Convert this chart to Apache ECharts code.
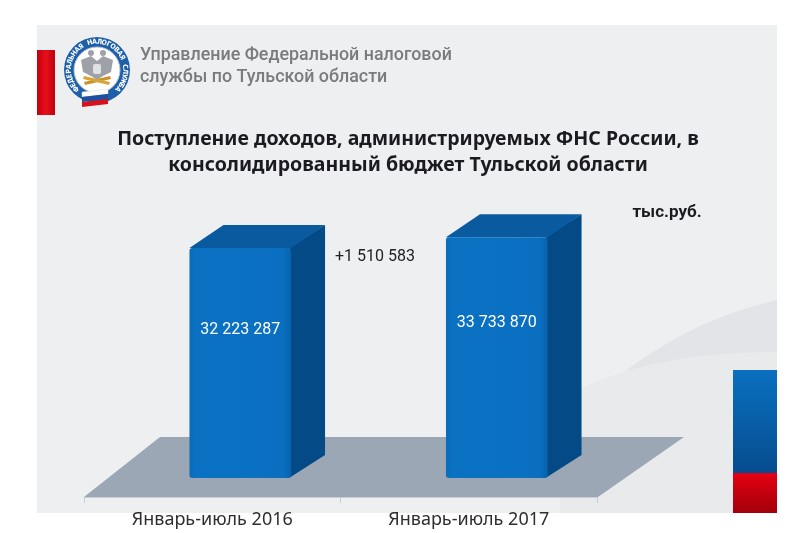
<!DOCTYPE html>
<html>
<head>
    <meta charset="utf-8">
    <title>Поступление доходов</title>
    <script src="https://cdn.jsdelivr.net/npm/echarts@6/dist/echarts.min.js"></script>
    <style>
        html, body { margin: 0; padding: 0; background: #fff; }
        #main { width: 800px; height: 533px; }
    </style>
</head>
<body>
<div id="main"></div>
<script type="text/javascript">
    // данные
    var categories = ['Январь-июль 2016', 'Январь-июль 2017'];
    var values = [32223287, 33733870];
    var unitLabel = 'тыс.руб.';
    var headerLines = ['Управление Федеральной налоговой', 'службы по Тульской области'];
    var titleText = 'Поступление доходов, администрируемых ФНС России, в\nконсолидированный бюджет Тульской области';

    // формат "32 223 287"
    var fmt = function (n) {
        return String(n).replace(/\B(?=(\d{3})+(?!\d))/g, ' ');
    };
    var diff = values[1] - values[0];

    // кубическая кривая -> точки (для волн на фоне)
    var bez = function (p0, p1, p2, p3) {
        var pts = [];
        for (var k = 0; k <= 24; k++) {
            var t = k / 24, u = 1 - t;
            pts.push([
                u * u * u * p0[0] + 3 * u * u * t * p1[0] + 3 * u * t * t * p2[0] + t * t * t * p3[0],
                u * u * u * p0[1] + 3 * u * u * t * p1[1] + 3 * u * t * t * p2[1] + t * t * t * p3[1]
            ]);
        }
        return pts;
    };

    var chart = echarts.init(document.getElementById('main'));

    // логотип
    var logoCx = 97, logoCy = 70;
    var ringText = 'ФЕДЕРАЛЬНАЯ НАЛОГОВАЯ СЛУЖБА';
    var logo = [
        { type: 'circle', shape: { cx: logoCx, cy: logoCy, r: 33 }, style: { fill: '#1d5fa8' }, z: 1 },
        { type: 'circle', shape: { cx: logoCx, cy: logoCy, r: 23 }, style: { fill: '#ffffff', stroke: '#b9c6d6', lineWidth: 1 }, z: 2 },
        // орёл (упрощённо)
        { type: 'polygon', shape: { points: [[logoCx - 16, logoCy - 10], [logoCx - 6, logoCy - 14], [logoCx, logoCy - 9], [logoCx + 6, logoCy - 14],
            [logoCx + 16, logoCy - 10], [logoCx + 14, logoCy + 2], [logoCx + 6, logoCy + 6], [logoCx, logoCy + 10],
            [logoCx - 6, logoCy + 6], [logoCx - 14, logoCy + 2]] }, style: { fill: '#9ea2a8' }, z: 3 },
        { type: 'circle', shape: { cx: logoCx - 6, cy: logoCy - 17, r: 3 }, style: { fill: '#9ea2a8' }, z: 3 },
        { type: 'circle', shape: { cx: logoCx + 6, cy: logoCy - 17, r: 3 }, style: { fill: '#9ea2a8' }, z: 3 },
        { type: 'rect', shape: { x: logoCx - 4, y: logoCy - 6, width: 8, height: 10, r: 2 }, style: { fill: '#dfe1e4' }, z: 4 },
        { type: 'polygon', shape: { points: [[logoCx - 13, logoCy + 12], [logoCx + 13, logoCy + 6], [logoCx + 14, logoCy + 9], [logoCx - 12, logoCy + 15]] }, style: { fill: '#c9932a' }, z: 4 },
        { type: 'polygon', shape: { points: [[logoCx - 13, logoCy + 6], [logoCx + 13, logoCy + 12], [logoCx + 12, logoCy + 15], [logoCx - 14, logoCy + 9]] }, style: { fill: '#d8a53a' }, z: 4 },
        // ленточка-флаг
        { type: 'polygon', shape: { points: [[logoCx - 15, logoCy + 22], [logoCx + 11, logoCy + 19], [logoCx + 11, logoCy + 24], [logoCx - 15, logoCy + 27]] }, style: { fill: '#ffffff', stroke: '#d0d6de', lineWidth: 0.5 }, z: 5 },
        { type: 'polygon', shape: { points: [[logoCx - 15, logoCy + 27], [logoCx + 11, logoCy + 24], [logoCx + 11, logoCy + 29], [logoCx - 15, logoCy + 32]] }, style: { fill: '#1d4fa3' }, z: 5 },
        { type: 'polygon', shape: { points: [[logoCx - 15, logoCy + 32], [logoCx + 11, logoCy + 29], [logoCx + 11, logoCy + 34], [logoCx - 15, logoCy + 37]] }, style: { fill: '#d8121b' }, z: 5 }
    ];
    var startA = -222, endA = 42;
    for (var i = 0; i < ringText.length; i++) {
        var a = startA + (endA - startA) * i / (ringText.length - 1);
        var rad = a * Math.PI / 180;
        logo.push({
            type: 'text',
            x: logoCx + 28 * Math.cos(rad),
            y: logoCy + 28 * Math.sin(rad),
            rotation: -(a + 90) * Math.PI / 180,
            style: {
                text: ringText[i], fill: '#ffffff', font: 'bold 7px "DejaVu Sans Condensed", "DejaVu Sans"',
                align: 'center', verticalAlign: 'middle'
            },
            z: 3
        });
    }

    var wave1 = bez([777, 300], [700, 318], [640, 352], [560, 425]).concat([[560, 513], [777, 513]]);
    var wave2 = bez([777, 352], [700, 352], [630, 362], [560, 398]).concat([[560, 513], [777, 513]]);

    // смещение столбцов «вглубь» пола
    var depthX = 28, depthY = -19;

    var option = {
        animation: false,
        backgroundColor: '#ffffff',
        graphic: [
            // фон
            { type: 'rect', shape: { x: 37, y: 25, width: 740, height: 488 }, style: { fill: '#eeeff1' }, z: -10 },
            { type: 'polygon', shape: { points: wave1 }, style: { fill: '#e3e4e7' }, z: -9 },
            { type: 'polygon', shape: { points: wave2 }, style: { fill: '#e9eaec' }, z: -8 },
            // красная полоса слева
            { type: 'rect', shape: { x: 37, y: 50, width: 18, height: 65 },
              style: { fill: new echarts.graphic.LinearGradient(0, 0, 1, 0, [{ offset: 0, color: '#c4000c' }, { offset: 0.5, color: '#e5101c' }, { offset: 1, color: '#c00010' }]) }, z: -5 },
            // флаг справа
            { type: 'rect', shape: { x: 733, y: 370, width: 44, height: 103 },
              style: { fill: new echarts.graphic.LinearGradient(0, 0, 0, 1, [{ offset: 0, color: '#0a70c0' }, { offset: 1, color: '#064c8e' }]) }, z: -5 },
            { type: 'rect', shape: { x: 733, y: 473, width: 44, height: 40 },
              style: { fill: new echarts.graphic.LinearGradient(0, 0, 0, 1, [{ offset: 0, color: '#e50012' }, { offset: 1, color: '#a2000a' }]) }, z: -5 },
            // пол
            { type: 'polygon', shape: { points: [[84, 497], [598, 497], [684, 437], [160, 437]] }, style: { fill: '#9ba7b5' }, z: -4 },
            // шапка
            { type: 'text', x: 140, y: 44, scaleX: 0.94, style: { text: headerLines.join('\n'), fill: '#7a7b7d', font: '500 19px Roboto', lineHeight: 22 }, z: 1 },
            { type: 'text', x: 408, y: 152, style: { text: titleText, fill: '#1b1b1f', font: 'bold 19.5px "Noto Sans"', align: 'center', verticalAlign: 'middle', lineHeight: 26 }, z: 1 },
            { type: 'text', x: 667, y: 213, style: { text: unitLabel, fill: '#1b1b1f', font: 'bold 17px Roboto', align: 'center', verticalAlign: 'middle' }, z: 1 },
            { type: 'text', x: 375, y: 257, style: { text: '+' + fmt(diff), fill: '#222222', font: '16px Roboto', align: 'center', verticalAlign: 'middle' }, z: 1 }
        ].concat(logo),
        grid: { left: 84, right: 203, top: 211.5, bottom: 36 },
        xAxis: {
            type: 'category',
            data: categories,
            z: 5,
            axisLine: { lineStyle: { color: '#c9ced4', width: 1 } },
            axisTick: { show: true, length: 6, lineStyle: { color: '#c9ced4' } },
            axisLabel: { color: '#2e2e2e', fontSize: 18, fontFamily: 'Noto Sans', margin: 14 }
        },
        yAxis: {
            type: 'value',
            min: 0,
            max: 40000000,
            show: false
        },
        series: [{
            type: 'custom',
            z: 10,
            data: values.map(function (v, i) { return [i, v]; }),
            renderItem: function (params, api) {
                var idx = api.value(0);
                var v = api.value(1);
                var base = api.coord([idx, 0]);
                var top = api.coord([idx, v]);
                var band = api.size([1, 0])[0];
                var w = band * 0.396;
                var cx = base[0] + depthX;
                var l = cx - w / 2, r = cx + w / 2;
                var yb = base[1] + depthY, yt = top[1] + depthY;
                var dx = 34, dy = -23;
                var labelY = api.coord([idx, v * 0.645])[1] + depthY;
                return {
                    type: 'group',
                    children: [
                        {
                            type: 'polygon',
                            shape: { points: [[r - 2, yt], [r + dx, yt + dy], [r + dx, yb + dy], [r - 2, yb]] },
                            style: { fill: '#044a86' }
                        },
                        {
                            type: 'polygon',
                            shape: { points: [[l, yt], [l + dx, yt + dy], [r + dx, yt + dy], [r, yt]] },
                            style: { fill: '#0a5aa0' }
                        },
                        {
                            type: 'rect',
                            shape: { x: l, y: yt, width: w, height: yb - yt, r: 3 },
                            style: {
                                fill: new echarts.graphic.LinearGradient(0, 0, 1, 0, [
                                    { offset: 0, color: '#0a6cba' },
                                    { offset: 0.08, color: '#0b72c3' },
                                    { offset: 0.92, color: '#0a6fc0' },
                                    { offset: 1, color: '#0862ad' }
                                ])
                            }
                        },
                        {
                            type: 'text',
                            x: cx, y: labelY,
                            style: {
                                text: fmt(v), fill: '#ffffff', font: '16px Roboto',
                                align: 'center', verticalAlign: 'middle'
                            }
                        }
                    ]
                };
            }
        }]
    };

    chart.setOption(option);
</script>
</body>
</html>
